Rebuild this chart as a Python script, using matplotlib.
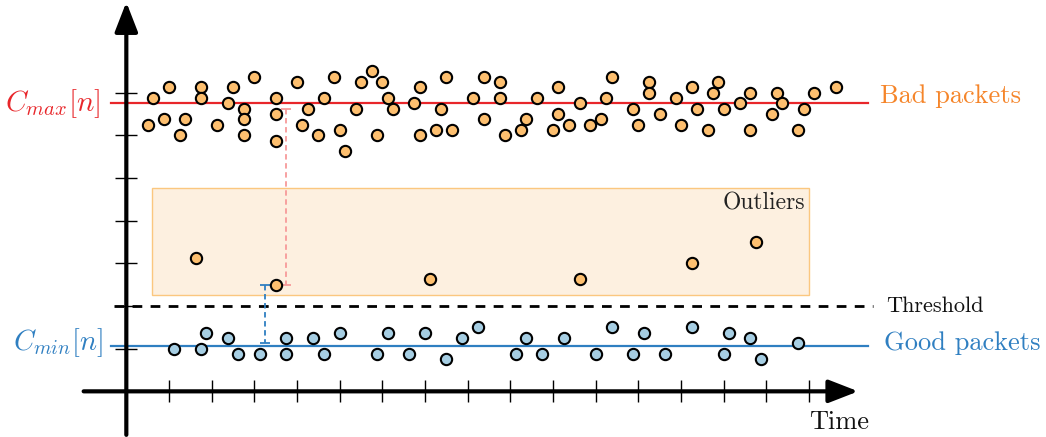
import matplotlib.pyplot as plt
from matplotlib.patches import Rectangle

plt.rcParams['font.family'] = 'serif'
plt.rcParams['font.serif'] = ['cmr10']
plt.rcParams['mathtext.fontset'] = 'cm'

# levels (in axis units)
c_max = 6.75
c_min = 1.07
threshold = 2.0

# bad packets: time, offset from C_max in 1/8 steps
bad_t = [0.5, 0.625, 0.875, 1.0, 1.25, 1.375, 1.75, 1.75, 2.125, 2.375, 2.5, 2.75, 2.75, 2.75,
         3.0, 3.5, 3.5, 3.5, 4.0, 4.125, 4.25, 4.5, 4.625, 4.875, 5.0, 5.125, 5.375, 5.5, 5.75,
         5.875, 6.0, 6.125, 6.25, 6.75, 6.875, 6.875, 7.25, 7.375, 7.5, 7.625, 8.125, 8.375,
         8.375, 8.75, 8.75, 8.875, 9.25, 9.375, 9.625, 10.0, 10.125, 10.125, 10.375, 10.625,
         10.875, 11.125, 11.25, 11.375, 11.875, 12.0, 12.25, 12.25, 12.5, 12.875, 13.0, 13.25,
         13.375, 13.625, 13.75, 13.875, 14.0, 14.375, 14.625, 14.625, 15.125, 15.25, 15.375,
         15.75, 15.875, 16.125, 16.625]
bad_k = [-4, 1, -3, 3, -6, -3, 3, 1, -4, 0, 3, -1, -3, -6,
         5, 1, -2, -7, 4, -4, -1, -6, 1, 5, -5, -9, -1, 4, 6,
         -6, 4, 1, -1, 0, 3, -6, -5, -1, 5, -5, 1, 5,
         -3, 4, 1, -6, -5, -3, 1, -5, 3, -2, -4, 0,
         -4, -3, 1, 5, -1, -4, 4, 2, -2, 1, -4, 3,
         -1, -5, 2, 4, -1, 0, 2, -5, -2, 2, 0,
         -5, -1, 2, 3]
bad_y = [c_max + k / 8 for k in bad_k]

# outliers
out_t = [1.625, 3.5, 7.125, 10.625, 13.25, 14.75]
out_y = [3.125, 2.5, 2.625, 2.625, 3.0, 3.5]

# good packets
good_t = [1.125, 1.75, 1.875, 2.375, 2.625, 3.125, 3.75, 3.75, 4.375, 4.625, 5.0, 5.875,
          6.125, 6.625, 7.0, 7.5, 7.875, 8.25, 9.125, 9.375, 9.75, 10.25, 11.0, 11.375,
          11.875, 12.125, 12.625, 13.25, 14.0, 14.125, 14.625, 14.875, 15.75]
good_y = [1.0, 1.0, 1.375, 1.25, 0.875, 0.875, 1.25, 0.875, 1.25, 0.875, 1.375, 0.875,
          1.375, 0.875, 1.375, 0.75, 1.25, 1.5, 0.875, 1.25, 0.875, 1.25, 0.875, 1.5,
          0.875, 1.375, 0.875, 1.5, 0.875, 1.375, 1.25, 0.75, 1.125]

x_ticks = list(range(1, 17))
y_ticks = list(range(1, 8))

orange = '#fdbf6f'
blue = '#a6cee3'
red = '#e8262a'
dblue = '#2f7fc1'

fig = plt.figure(figsize=(10.46, 4.37), dpi=100)
ax = fig.add_axes([0, 0, 1, 1])
ax.set_xlim(-2.96, 21.55)
ax.set_ylim(-1.07, 9.17)
ax.axis('off')

# axes with arrows
ax.annotate('', xy=(17.15, 0), xytext=(-1.0, 0),
            arrowprops=dict(arrowstyle='-|>,head_length=0.9,head_width=0.35', lw=3, color='black',
                            shrinkA=0, shrinkB=0, mutation_scale=20))
ax.annotate('', xy=(0, 9.12), xytext=(0, -1.02),
            arrowprops=dict(arrowstyle='-|>,head_length=0.9,head_width=0.35', lw=3, color='black',
                            shrinkA=0, shrinkB=0, mutation_scale=20))
ax.vlines(x_ticks, -0.26, 0.26, color='black', lw=1)
ax.hlines(y_ticks, -0.26, 0.26, color='black', lw=1)

# outliers region
ax.add_patch(Rectangle((0.61, 2.26), 15.38, 2.5, facecolor='#fdf0e0', edgecolor='#fbc77f', lw=1, zorder=1))
ax.text(15.9, 4.4, 'Outliers', fontsize=17, ha='right', va='center', color='#222222')

# level lines
ax.plot([-0.37, 17.38], [c_max, c_max], color=red, lw=1.6, zorder=2)
ax.plot([-0.37, 17.38], [c_min, c_min], color=dblue, lw=1.6, zorder=2)
ax.plot([-0.3, 17.5], [threshold, threshold], color='black', lw=2, ls=(0, (3.5, 3)), zorder=2)

# distance markers
ax.plot([3.75, 3.75], [6.625, 2.5], color='#f79a9a', lw=1.3, ls=(0, (3, 2)), zorder=2)
ax.hlines([6.625, 2.5], 3.63, 3.87, color='#f79a9a', lw=1.3, zorder=2)
ax.plot([3.25, 3.25], [2.5, 1.125], color=dblue, lw=1.3, ls=(0, (3, 2)), zorder=2)
ax.hlines([2.5, 1.125], 3.13, 3.37, color=dblue, lw=1.3, zorder=2)

# points
ax.scatter(bad_t, bad_y, s=66, color=orange, edgecolor='black', lw=1.5, zorder=3)
ax.scatter(out_t, out_y, s=66, color=orange, edgecolor='black', lw=1.5, zorder=3)
ax.scatter(good_t, good_y, s=66, color=blue, edgecolor='black', lw=1.5, zorder=3)

# labels
ax.text(-0.6, c_max, r'$C_{max}[n]$', fontsize=21, color=red, ha='right', va='center')
ax.text(-0.55, c_min + 0.08, r'$C_{min}[n]$', fontsize=20.5, color=dblue, ha='right', va='center')
ax.text(17.65, c_max + 0.16, 'Bad packets', fontsize=19, color='#f5852a', ha='left', va='center')
ax.text(17.75, c_min + 0.06, 'Good packets', fontsize=19, color=dblue, ha='left', va='center')
ax.text(17.8, threshold, 'Threshold', fontsize=16, color='#111111', ha='left', va='center')
ax.text(16.0, -0.72, 'Time', fontsize=19, color='#111111', ha='left', va='center')

fig.savefig('out.png', dpi=100)
